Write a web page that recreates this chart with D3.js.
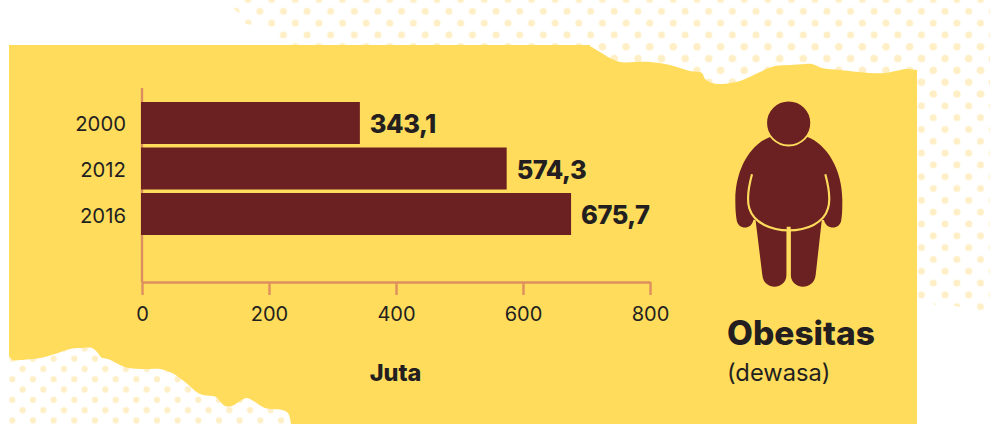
<!DOCTYPE html>
<html>
<head>
<meta charset="utf-8">
<script src="https://cdn.jsdelivr.net/npm/d3@7/dist/d3.min.js"></script>
<style>
html,body{margin:0;padding:0;background:#fff;overflow:hidden}
text{font-family:Inter,"Noto Sans",sans-serif;fill:#231f20}
</style>
</head>
<body>
<svg id="chart" width="990" height="424"></svg>
<script>
const years = ["2000", "2012", "2016"];
const adults = [343.1, 574.3, 675.7];
const xTicks = [0, 200, 400, 600, 800];

const barColor = "#6b2121", paper = "#ffdc5c", axisColor = "#de8f5f", dotColor = "#ffefc6";

const svg = d3.select("#chart");
const defs = svg.append("defs");

// Polka-dot swatches used behind the torn paper
function dotPattern(id, w, h, ox, oy, r) {
  const p = defs.append("pattern").attr("id", id).attr("patternUnits", "userSpaceOnUse")
    .attr("x", ox).attr("y", oy).attr("width", w).attr("height", h);
  [[0, 0], [w, 0], [0, h], [w, h], [w / 2, h / 2]].forEach(([cx, cy]) =>
    p.append("circle").attr("cx", cx).attr("cy", cy).attr("r", r).attr("fill", dotColor));
}
dotPattern("dotsUpper", 23.63, 23.63, 567, 11.3, 3.5);
dotPattern("dotsLower", 20.67, 20.6, 12.3, 358.7, 3.1);

const line = d3.line();
const smooth = d3.line().curve(d3.curveCatmullRom.alpha(0.5));

svg.append("path").attr("fill", "url(#dotsUpper)").attr("d", line([
  [232,8],[240,14],[246,24],[254,25],[263,26],[270,34],[282,46],[917,100],
  [917,300],[925,302],[930,302],[937,306],[950,305],[965,308],[975,313],[990,313],[990,0],[232,0]
]) + "Z");
svg.append("path").attr("fill", "url(#dotsUpper)").attr("d", line([[282,40],[990,40],[990,100],[282,100]]) + "Z");
svg.append("rect").attr("x", 9).attr("y", 340).attr("width", 290).attr("height", 84).attr("fill", "url(#dotsLower)");

// Torn yellow sheet: straight left, right and bottom sides, ragged top and lower-left edge
const topEdge = [[590,46],[600,52],[610,58],[620,62],[635,62],[650,62],[670,65],[690,71],[702,73],[705,79],[712,83],[722,84],[740,81],[760,72],[775,66],[790,65],[805,64],[812,64],[822,68],[840,70],[870,73],[885,73],[900,70],[905,69],[917,70]];
const lowEdge = [[291,424],[288,413],[282,410],[265,408],[255,402],[247,398],[240,401],[232,406],[225,406],[216,397],[212,396],[200,394],[185,382],[172,373],[160,369],[140,369],[125,367],[108,359],[102,358],[97,352],[92,348],[80,348],[70,349],[55,354],[40,358],[20,360],[13,360],[9,356]];
svg.append("path").attr("fill", paper).attr("d",
  "M9,45L590,45" + smooth(topEdge).replace(/^M/, "L") + "L917,424" + smooth(lowEdge).replace(/^M/, "L") + "Z");

// Scales
const x = d3.scaleLinear().domain([0, 800]).range([142, 650]);
const y = d3.scaleBand().domain(years).range([102, 235]).paddingInner(0.077);
const axisY = 282;

// Value axis
const xAxis = svg.append("g").attr("transform", `translate(0,${axisY})`)
  .call(d3.axisBottom(x).tickValues(xTicks).tickSize(13).tickPadding(12).tickSizeOuter(0));
xAxis.select(".domain").attr("stroke", axisColor).attr("stroke-width", 2.4);
xAxis.selectAll(".tick line").attr("stroke", axisColor).attr("stroke-width", 2.4);
xAxis.selectAll("text").attr("font-size", 20).style("font-family", "Inter").style("font-weight", 400);

// Year axis
svg.append("line").attr("x1", x(0)).attr("x2", x(0)).attr("y1", 88).attr("y2", axisY)
  .attr("stroke", axisColor).attr("stroke-width", 2.4);
const yAxis = svg.append("g").attr("transform", `translate(${x(0) - 16},2)`)
  .call(d3.axisLeft(y).tickSize(0).tickPadding(0));
yAxis.select(".domain").remove();
yAxis.selectAll("text").attr("font-size", 20.3).style("font-family", "Inter");

// Bars and their value labels
const decimalComma = d3.formatLocale({decimal: ",", thousands: ".", grouping: [3], currency: ["", ""]}).format(".1f");
svg.selectAll("rect.bar").data(adults).join("rect").attr("class", "bar")
  .attr("x", x(0) - 1).attr("y", (d, i) => y(years[i]))
  .attr("width", d => x(d) - x(0) + 1).attr("height", y.bandwidth()).attr("fill", barColor);
svg.selectAll("text.val").data(adults).join("text").attr("class", "val")
  .attr("x", d => x(d) + 10).attr("y", (d, i) => y(years[i]) + y.bandwidth() / 2 + 10)
  .attr("font-size", 25.5).attr("font-weight", 800).attr("letter-spacing", -0.5).text(d => decimalComma(d));

svg.append("text").attr("x", 395.5).attr("y", 381).attr("text-anchor", "middle")
  .attr("font-size", 23.5).attr("font-weight", 800).text("Juta");

// Side pictogram of an obese adult
const fig = svg.append("g").attr("transform", "translate(700,80) scale(0.3333)");
fig.append("path").attr("fill", barColor).attr("d",
  "M166,415L187,585C191,632 256,632 260,585L260,440L272,440L272,585C276,632 342,632 347,585L366,415Z");
fig.append("path").attr("fill", barColor).attr("d",
  "M212,170C150,192 106,270 106,360C106,385 107,400 110,420C114,450 155,450 160,420L372,420C378,450 420,450 424,420C427,400 427,385 427,360C427,270 382,192 320,170Z");
fig.append("path").attr("fill", "none").attr("stroke", paper).attr("stroke-width", 6.5)
  .attr("d", "M156,283C146,320 140,360 148,385C162,430 215,451 266,451C320,451 372,430 384,385C392,360 386,320 376,283");
fig.append("rect").attr("x", 260).attr("y", 451).attr("width", 12).attr("height", 145).attr("fill", paper);
fig.append("circle").attr("cx", 266).attr("cy", 129).attr("r", 67.5).attr("fill", barColor)
  .attr("stroke", paper).attr("stroke-width", 5.5);

svg.append("text").attr("x", 727).attr("y", 345).attr("font-size", 33.5).attr("font-weight", 800).text("Obesitas");
svg.append("text").attr("x", 727).attr("y", 381).attr("font-size", 23.7).text("(dewasa)");
</script>
</body>
</html>
